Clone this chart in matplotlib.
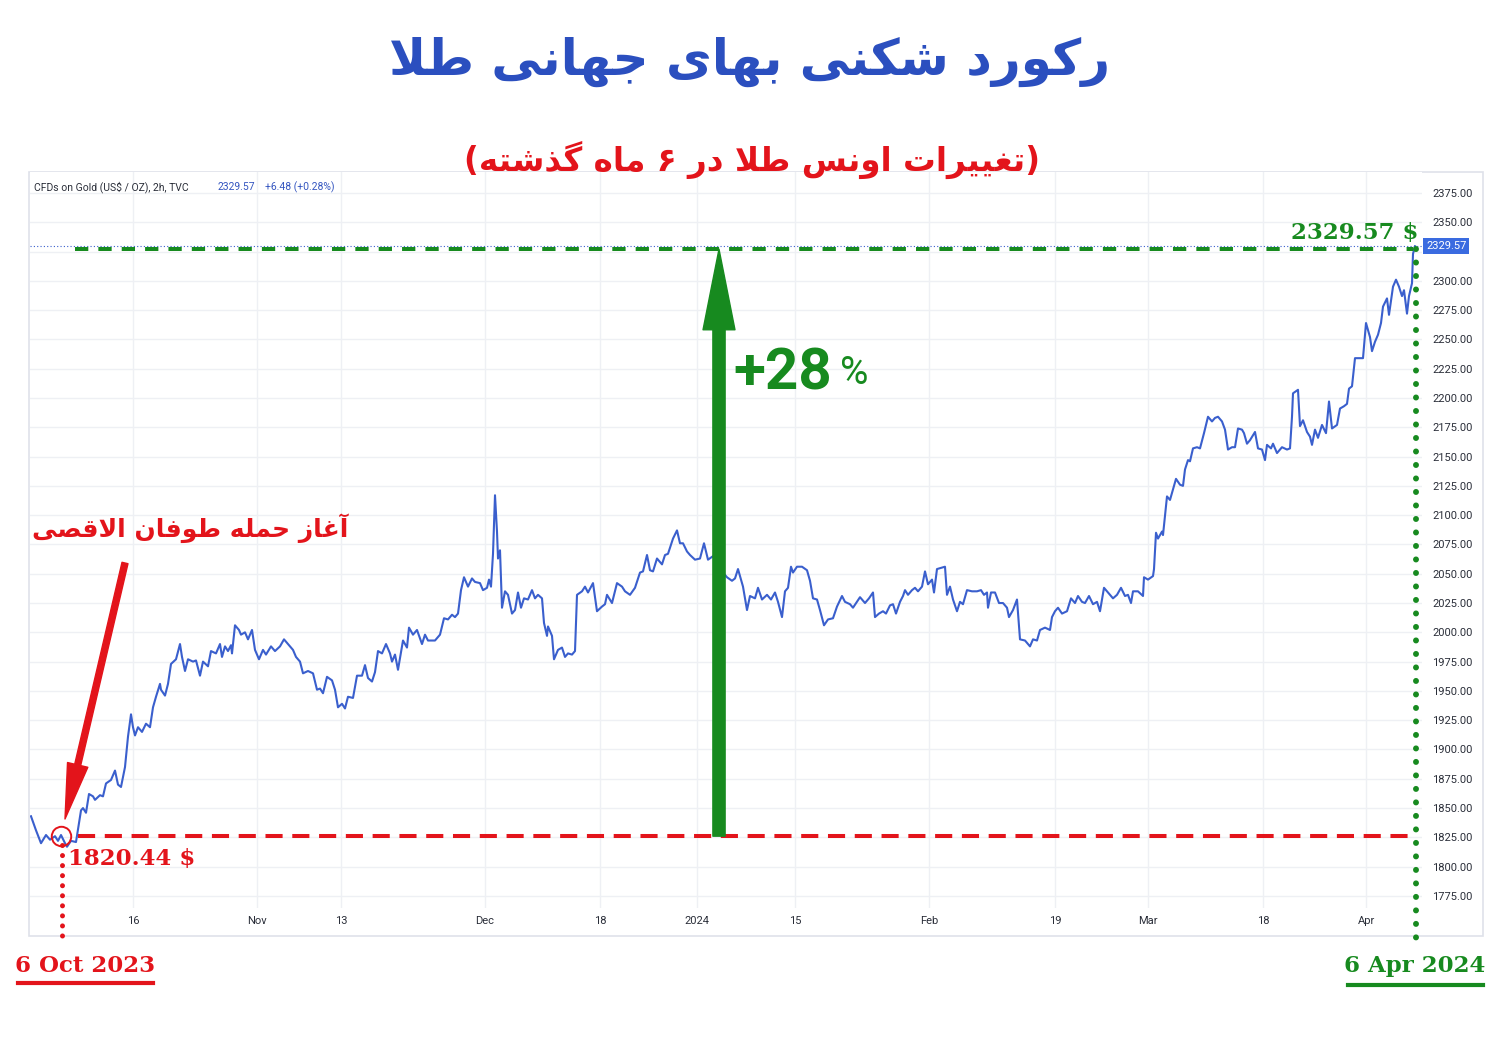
import matplotlib
matplotlib.use("Agg")
import matplotlib.pyplot as plt
import matplotlib.transforms as mtransforms
from matplotlib.patches import FancyArrowPatch, Rectangle
from matplotlib.lines import Line2D
from matplotlib import font_manager

# ---------------- data ----------------
# t: session time in trading days from 2 Oct 2023 (approx.), price: US$ / oz
t = [0.1, 0.6, 1.1, 1.6, 2.0, 2.5, 2.8, 3.1, 3.5, 3.7, 4.1, 4.6, 4.8, 5.1, 5.3, 5.6, 5.9, 6.3, 6.5, 7.0,
     7.3, 7.6, 8.1, 8.5, 8.8, 9.1, 9.5, 9.8, 10.1, 10.3, 10.5, 10.8, 11.2, 11.6, 12.0, 12.3, 12.6, 13.0,
     13.1, 13.5, 13.8, 14.1, 14.6, 15.0, 15.2, 15.5, 15.8, 16.3, 16.6, 17.0, 17.3, 17.8, 18.1, 18.6,
     19.0, 19.2, 19.5, 19.8, 20.1, 20.2, 20.5, 20.9, 21.1, 21.5, 21.8, 22.2, 22.5, 22.9, 23.3, 23.6,
     24.1, 24.5, 25.0, 25.4, 25.8, 26.3, 26.6, 27.0, 27.3, 27.8, 28.3, 28.7, 29.0, 29.3, 29.7, 30.2,
     30.5, 30.8, 31.2, 31.5, 31.8, 32.3, 32.7, 33.2, 33.5, 33.8, 34.2, 34.5, 34.8, 35.2, 35.6, 36.0,
     36.2, 36.5, 36.8, 37.3, 37.7, 37.9, 38.3, 38.7, 39.2, 39.5, 39.8, 40.5, 41.0, 41.4, 41.8, 42.2,
     42.5, 42.8, 43.1, 43.4, 43.8, 44.2, 44.5, 45.0, 45.3, 45.7, 45.9, 46.1, 46.3, 46.5, 46.7, 46.8,
     47.0, 47.2, 47.5, 47.8, 48.2, 48.5, 48.8, 49.1, 49.4, 49.8, 50.2, 50.5, 50.8, 51.2, 51.4, 51.7,
     51.8, 52.2, 52.4, 52.8, 53.2, 53.5, 53.8, 54.2, 54.5, 54.7, 55.2, 55.5, 55.8, 56.3, 56.7, 57.2,
     57.5, 57.7, 58.2, 58.7, 59.2, 59.5, 60.0, 60.5, 61.0, 61.3, 61.7, 62.0, 62.3, 62.7, 63.2, 63.5,
     63.8, 64.3, 64.7, 65.0, 65.3, 65.7, 66.0, 66.5, 67.0, 67.4, 67.8, 68.3, 68.9, 69.7, 70.2, 70.5,
     70.8, 71.3, 71.7, 72.0, 72.5, 72.8, 73.2, 73.7, 74.1, 74.5, 74.8, 75.2, 75.5, 75.8, 76.1, 76.3,
     76.7, 77.2, 77.7, 78.0, 78.3, 78.7, 79.0, 79.4, 79.8, 80.3, 80.7, 81.2, 81.5, 82.0, 82.3, 83.0,
     83.5, 83.9, 84.3, 84.5, 84.9, 85.3, 85.6, 86.0, 86.3, 86.6, 87.0, 87.3, 87.5, 87.8, 88.2, 88.5,
     88.8, 89.2, 89.5, 89.8, 90.2, 90.4, 90.7, 91.5, 91.7, 92.0, 92.3, 92.7, 93.0, 93.3, 93.7, 94.2,
     94.7, 95.1, 95.4, 95.7, 95.8, 96.1, 96.5, 96.9, 97.3, 97.7, 97.9, 98.3, 98.7, 99.0, 99.5, 100.0,
     100.3, 100.7, 101.0, 101.5, 102.0, 102.2, 102.5, 102.8, 103.2, 103.7, 104.1, 104.5, 104.8, 105.2,
     105.5, 105.9, 106.3, 106.7, 107.0, 107.4, 107.8, 108.3, 108.7, 109.1, 109.5, 109.8, 110.1, 110.3,
     110.8, 111.3, 111.4, 111.8, 112.3, 112.4, 112.6, 112.8, 113.2, 113.3, 113.7, 114.0, 114.2, 114.6,
     115.0, 115.3, 115.5, 115.8, 116.0, 116.3, 116.7, 117.0, 117.4, 117.8, 118.2, 118.5, 118.8, 119.2,
     119.5, 119.8, 120.2, 120.5, 120.8, 121.2, 121.4, 121.7, 122.0, 122.5, 122.8, 123.2, 123.5, 123.7,
     124.1, 124.3, 124.7, 125.2, 125.7, 126.0, 126.2, 126.3, 126.8, 127.0, 127.3, 127.7, 128.0, 128.2,
     128.5, 128.8, 129.2, 129.6, 129.9, 130.2, 130.7, 131.0, 131.4, 131.7, 131.9, 132.2, 132.5, 133.3,
     133.6, 134.0, 134.2, 134.5, 134.8, 135.1, 135.3, 135.7, 135.9, 136.3, 136.6, 136.9, 137.2, 137.4,
     137.7, 137.9, 138.2, 138.3, 138.5]

price = [1843, 1831, 1820, 1827, 1823, 1826, 1822, 1827, 1820, 1817, 1822, 1821, 1832, 1848, 1850, 1846,
         1862, 1860, 1857, 1861, 1860, 1871, 1874, 1882, 1870, 1868, 1885, 1911, 1930, 1919, 1912, 1919,
         1915, 1922, 1919, 1936, 1945, 1956, 1951, 1946, 1956, 1973, 1977, 1990, 1979, 1967, 1977, 1975,
         1976, 1963, 1975, 1971, 1984, 1982, 1990, 1979, 1988, 1984, 1989, 1982, 2006, 2002, 1998, 2000,
         1994, 2002, 1985, 1977, 1985, 1981, 1988, 1984, 1988, 1994, 1990, 1985, 1979, 1975, 1965, 1967,
         1965, 1951, 1952, 1948, 1962, 1959, 1951, 1936, 1939, 1935, 1945, 1944, 1963, 1963, 1972, 1961,
         1958, 1966, 1984, 1982, 1990, 1982, 1975, 1981, 1968, 1993, 1987, 2004, 1998, 2002, 1990, 1998,
         1993, 1993, 1998, 2012, 2011, 2015, 2013, 2016, 2036, 2047, 2039, 2046, 2043, 2042, 2036, 2038,
         2045, 2039, 2067, 2117, 2086, 2063, 2070, 2021, 2035, 2032, 2016, 2019, 2034, 2021, 2029, 2028,
         2036, 2029, 2032, 2029, 2008, 1997, 2005, 1997, 1977, 1985, 1987, 1979, 1982, 1981, 1984, 2032,
         2035, 2039, 2034, 2042, 2018, 2022, 2024, 2032, 2025, 2042, 2039, 2035, 2032, 2038, 2051, 2052,
         2066, 2053, 2052, 2063, 2058, 2066, 2067, 2080, 2087, 2076, 2076, 2069, 2066, 2062, 2063, 2076,
         2062, 2065, 2055, 2047, 2044, 2046, 2054, 2039, 2019, 2031, 2029, 2038, 2028, 2032, 2028, 2034,
         2026, 2013, 2035, 2038, 2056, 2051, 2056, 2056, 2053, 2044, 2029, 2028, 2019, 2006, 2011, 2012,
         2022, 2031, 2026, 2024, 2021, 2030, 2025, 2029, 2034, 2013, 2016, 2018, 2016, 2023, 2024, 2016,
         2026, 2031, 2036, 2032, 2036, 2038, 2035, 2039, 2052, 2041, 2045, 2034, 2054, 2056, 2032, 2039,
         2028, 2018, 2026, 2024, 2036, 2035, 2035, 2036, 2032, 2034, 2021, 2034, 2034, 2025, 2025, 2021,
         2013, 2019, 2028, 1994, 1993, 1988, 1994, 1993, 2002, 2004, 2002, 2013, 2018, 2021, 2016, 2018,
         2029, 2025, 2031, 2026, 2025, 2031, 2024, 2026, 2018, 2038, 2034, 2029, 2032, 2038, 2031, 2032,
         2025, 2035, 2035, 2031, 2047, 2045, 2048, 2054, 2085, 2080, 2086, 2083, 2116, 2113, 2119, 2131,
         2126, 2125, 2139, 2147, 2146, 2157, 2158, 2157, 2170, 2184, 2180, 2183, 2184, 2180, 2173, 2156,
         2158, 2158, 2174, 2173, 2170, 2161, 2164, 2171, 2157, 2156, 2147, 2160, 2157, 2161, 2153, 2158,
         2156, 2157, 2184, 2204, 2207, 2176, 2181, 2171, 2167, 2160, 2173, 2166, 2177, 2170, 2197, 2174,
         2177, 2191, 2193, 2195, 2208, 2210, 2234, 2234, 2264, 2252, 2240, 2248, 2254, 2264, 2278, 2285,
         2271, 2295, 2301, 2295, 2287, 2292, 2272, 2287, 2298, 2323, 2329.57]

time_tick_pos = [10.3, 22.7, 31.1, 45.5, 57.0, 66.7, 76.5, 89.9, 102.5, 111.8, 123.3, 133.6]
time_tick_labels = ["16", "Nov", "13", "Dec", "18", "2024", "15", "Feb", "19", "Mar", "18", "Apr"]
price_ticks = list(range(1775, 2376, 25))

start_t, end_t = 3.2, 138.6          # 6 Oct 2023 / 6 Apr 2024
start_level, end_level = 1826, 2327  # guide levels as drawn
start_price, last_price = 1820.44, 2329.57
change_pct = 28
last_change, last_change_pct = 6.48, 0.28

title = "رکورد شکنی بهای جهانی طلا"
subtitle = "(تغییرات اونس طلا در ۶ ماه گذشته)"
event_text = "آغاز حمله طوفان الاقصی"
start_date, end_date = "6 Oct 2023", "6 Apr 2024"

# ---------------- Persian shaping (presentation forms, visual order) ----------------
FORMS = {
    'ا': ('\uFE8D', '\uFE8E', None, None), 'آ': ('\uFE81', '\uFE82', None, None),
    'ب': ('\uFE8F', '\uFE90', '\uFE91', '\uFE92'), 'ت': ('\uFE95', '\uFE96', '\uFE97', '\uFE98'),
    'ج': ('\uFE9D', '\uFE9E', '\uFE9F', '\uFEA0'), 'ح': ('\uFEA1', '\uFEA2', '\uFEA3', '\uFEA4'),
    'د': ('\uFEA9', '\uFEAA', None, None), 'ذ': ('\uFEAB', '\uFEAC', None, None),
    'ر': ('\uFEAD', '\uFEAE', None, None), 'ز': ('\uFEAF', '\uFEB0', None, None),
    'س': ('\uFEB1', '\uFEB2', '\uFEB3', '\uFEB4'), 'ش': ('\uFEB5', '\uFEB6', '\uFEB7', '\uFEB8'),
    'ص': ('\uFEB9', '\uFEBA', '\uFEBB', '\uFEBC'), 'ط': ('\uFEC1', '\uFEC2', '\uFEC3', '\uFEC4'),
    'غ': ('\uFECD', '\uFECE', '\uFECF', '\uFED0'), 'ف': ('\uFED1', '\uFED2', '\uFED3', '\uFED4'),
    'ق': ('\uFED5', '\uFED6', '\uFED7', '\uFED8'), 'ل': ('\uFEDD', '\uFEDE', '\uFEDF', '\uFEE0'),
    'م': ('\uFEE1', '\uFEE2', '\uFEE3', '\uFEE4'), 'ن': ('\uFEE5', '\uFEE6', '\uFEE7', '\uFEE8'),
    'ه': ('\uFEE9', '\uFEEA', '\uFEEB', '\uFEEC'), 'و': ('\uFEED', '\uFEEE', None, None),
    'ک': ('\uFB8E', '\uFB8F', '\uFB90', '\uFB91'), 'گ': ('\uFB92', '\uFB93', '\uFB94', '\uFB95'),
    'ی': ('\uFBFC', '\uFBFD', '\uFBFE', '\uFBFF'),
}
LAM_ALEF = {'ا': ('\uFEFB', '\uFEFC'), 'آ': ('\uFEF5', '\uFEF6')}


def joins_left(c):
    return c in FORMS and FORMS[c][2] is not None


def shape_fa(text):
    out, i, n = [], 0, len(text)
    while i < n:
        c = text[i]
        if c not in FORMS:
            out.append(c)
            i += 1
            continue
        prev_j = i > 0 and joins_left(text[i - 1])
        if c == 'ل' and i + 1 < n and text[i + 1] in LAM_ALEF:
            lig = LAM_ALEF[text[i + 1]]
            out.append(lig[1] if prev_j else lig[0])
            i += 2
            continue
        next_j = joins_left(c) and i + 1 < n and text[i + 1] in FORMS
        iso, fin, ini, med = FORMS[c]
        out.append(med if (prev_j and next_j) else fin if prev_j else ini if next_j else iso)
        i += 1
    vis = ''.join(reversed(out))
    return vis.translate(str.maketrans('()', ')('))


UI = 'Roboto'
FA = 'DejaVu Sans'
SERIF = 'DejaVu Serif'

# ---------------- colours ----------------
BLUE_LINE = '#3a5fcd'
TITLE_BLUE = '#2b4fbf'
RED = '#e3141b'
GREEN = '#178a1f'
GRID = '#eef0f4'
FRAME = '#dfe2ea'
TXT = '#2a2e39'

W, H = 1500, 1060
fig = plt.figure(figsize=(W / 100, H / 100), dpi=100)
fig.patch.set_facecolor('white')


def fx(px):
    return px / W


def fy(py):
    return 1 - py / H


# outer chart frame
fig.add_artist(Rectangle((fx(29), fy(936)), fx(1483) - fx(29), fy(172) - fy(936),
                         transform=fig.transFigure, fill=False, edgecolor=FRAME, lw=1.2, zorder=0))

ax = fig.add_axes([fx(30), fy(908), fx(1422) - fx(30), fy(172) - fy(908)])
ax.set_xlim(0, 139.2)
ax.set_ylim(1764.7, 2392.9)
for s in ax.spines.values():
    s.set_visible(False)
ax.set_xticks(time_tick_pos)
ax.set_xticklabels(time_tick_labels, fontsize=8, color=TXT, family=UI)
ax.set_yticks(price_ticks)
# the 2325 label sits under the last-price box, as in the reference
ax.set_yticklabels(["" if v == 2325 else f"{v:.2f}" for v in price_ticks],
                   fontsize=8, color=TXT, family=UI)
ax.yaxis.tick_right()
ax.tick_params(axis='y', length=0, pad=7.5)
ax.tick_params(axis='x', length=0, pad=6)
ax.grid(True, color=GRID, lw=1.0)
ax.set_axisbelow(True)

# last-price dotted line
ax.axhline(last_price, color=BLUE_LINE, lw=0.8, ls=(0, (1, 2)), zorder=2)

# price series
ax.plot(t, price, color=BLUE_LINE, lw=1.5, zorder=3, solid_joinstyle='round')

# guide lines
ax.plot([4.8, 138.3], [start_level, start_level], color=RED, lw=2.9, ls=(0, (4.25, 2.4)),
        dash_capstyle='butt', zorder=4)
ax.plot([4.5, 138.3], [end_level, end_level], color=GREEN, lw=2.9, ls=(0, (3.3, 2.5)),
        dash_capstyle='butt', zorder=4)

# dotted verticals (extend below the pane)
ax.plot([start_t, start_t], [1818.5, 1733.2], color=RED, lw=3.6, ls=(0, (0.01, 2.0)),
        dash_capstyle='round', clip_on=False, zorder=6)
ax.plot([end_t, end_t], [end_level, 1730.6], color=GREEN, lw=4.3, ls=(0, (0.01, 2.25)),
        dash_capstyle='round', clip_on=False, zorder=6)

# circle on start point
ax.plot([3.1], [start_level], marker='o', ms=14, mfc='none', mec=RED, mew=1.4, zorder=6)

# green growth arrow
ax.add_patch(FancyArrowPatch((68.9, start_level), (68.9, end_level),
                             arrowstyle='simple,head_length=58,head_width=23,tail_width=8.8',
                             mutation_scale=1, color=GREEN, shrinkA=0, shrinkB=0, zorder=7))

# red event arrow
fig.add_artist(FancyArrowPatch((fx(125), fy(563)), (fx(65), fy(819)), transform=fig.transFigure,
                               arrowstyle='simple,head_length=40,head_width=15,tail_width=4.4',
                               mutation_scale=1, color=RED, shrinkA=0, shrinkB=0, zorder=8))

# price label box on the axis
ax.text(1.003, last_price, f"{last_price:.2f}", transform=mtransforms.blended_transform_factory(
    ax.transAxes, ax.transData), ha='left', va='center', fontsize=8, color='white', family=UI,
    bbox=dict(boxstyle='square,pad=0.25', fc='#3a6be0', ec='none'), clip_on=False, zorder=9)

# TradingView header
fig.text(fx(34), fy(187), "CFDs on Gold (US$ / OZ), 2h, TVC", fontsize=7.5, family=UI,
         color=TXT, ha='left', va='center')
fig.text(fx(218), fy(187), f"{last_price:.2f}", fontsize=7.5, family=UI, color='#3556c0',
         ha='left', va='center')
fig.text(fx(265), fy(187), f"+{last_change:.2f} (+{last_change_pct:.2f}%)", fontsize=7.5,
         family=UI, color='#3556c0', ha='left', va='center')

# titles
fig.text(fx(750), fy(62), shape_fa(title), fontsize=36, fontweight='bold', family=FA,
         color=TITLE_BLUE, ha='center', va='center')
fig.text(fx(752), fy(160), shape_fa(subtitle), fontsize=23.5, fontweight='bold', family=FA,
         color=RED, ha='center', va='center')
fig.text(fx(190), fy(528), shape_fa(event_text), fontsize=18, fontweight='bold', family=FA,
         color=RED, ha='center', va='center')

# value / date labels
fig.text(fx(1418), fy(233), f"{last_price:.2f} $", fontsize=16.5, fontweight='bold', family=SERIF,
         color=GREEN, ha='right', va='center')
fig.text(fx(68), fy(859), f"{start_price:.2f} $", fontsize=16.5, fontweight='bold', family=SERIF,
         color=RED, ha='left', va='center')
fig.text(fx(85), fy(966), start_date, fontsize=16.5, fontweight='bold', family=SERIF,
         color=RED, ha='center', va='center')
fig.text(fx(1415), fy(966), end_date, fontsize=16.5, fontweight='bold', family=SERIF,
         color=GREEN, ha='center', va='center')
fig.add_artist(Line2D([fx(18), fx(153)], [fy(983), fy(983)], color=RED, lw=3, transform=fig.transFigure))
fig.add_artist(Line2D([fx(1348), fx(1483)], [fy(985), fy(985)], color=GREEN, lw=3,
                      transform=fig.transFigure))

# +28 %
fig.text(fx(733), fy(389), f"+{change_pct}", fontsize=42, fontweight='bold', family=UI,
         color=GREEN, ha='left', va='baseline')
fig.text(fx(840), fy(384), "%", fontsize=28, family=UI, color=GREEN, ha='left', va='baseline')

fig.savefig('out.png', dpi=100, facecolor='white')
